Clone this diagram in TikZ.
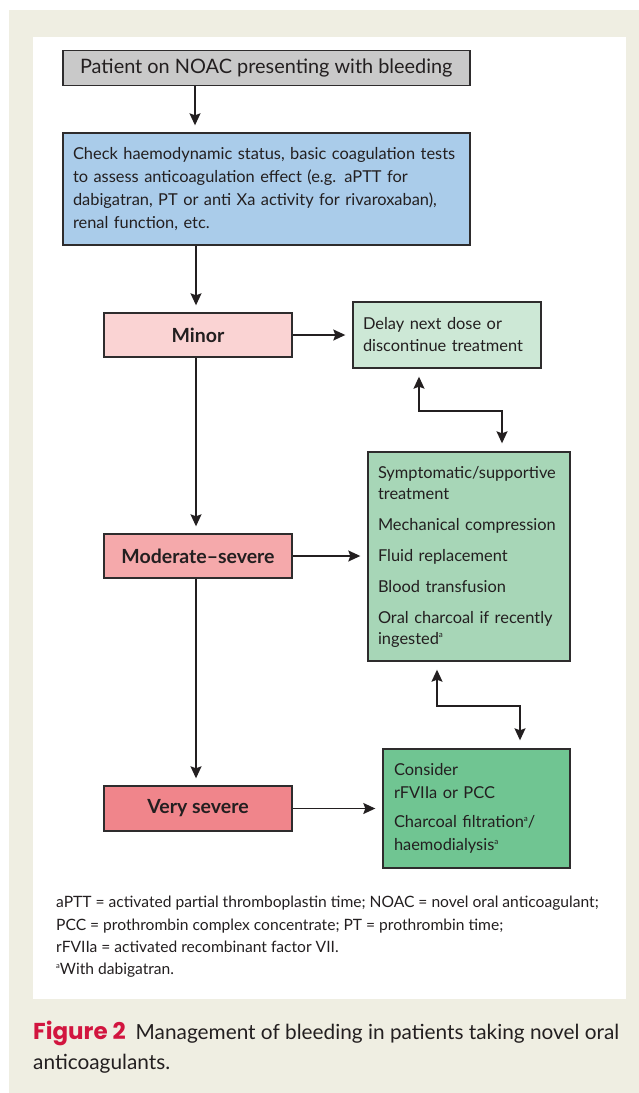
\documentclass[tikz,border=0pt]{standalone}
\usepackage{fontspec}
\setmainfont{Lato}
\newfontfamily\figfont{Poppins}
\usetikzlibrary{arrows.meta}
\definecolor{beige}{HTML}{EFEEE2}
\definecolor{boxline}{HTML}{2E2C2D}
\definecolor{txt}{HTML}{231F20}
\definecolor{grayfill}{HTML}{C9C9C9}
\definecolor{bluefill}{HTML}{AACCEA}
\definecolor{pinkA}{HTML}{FAD3D3}
\definecolor{pinkB}{HTML}{F5A9AB}
\definecolor{pinkC}{HTML}{F0858B}
\definecolor{greenA}{HTML}{CDE8D6}
\definecolor{greenB}{HTML}{A7D6B7}
\definecolor{greenC}{HTML}{70C592}
\definecolor{capred}{HTML}{D2153F}
\newcommand{\supa}{\raisebox{0.75ex}{\fontsize{8}{8}\selectfont a}}
\tikzset{
  box/.style={draw=boxline, line width=1.4pt, rectangle, inner ysep=0pt, text=txt},
  txtbox/.style={box, align=left, inner xsep=10pt, font=\fontsize{16.4}{22}\selectfont},
  sev/.style={box, font=\bfseries\fontsize{19.5}{22}\selectfont, minimum width=188pt},
  conn/.style={draw=txt, line width=1.4pt, -{Stealth[length=12pt,width=11pt,inset=2pt]}, shorten >=7pt},
  dconn/.style={draw=txt, line width=1.4pt, {Stealth[length=12pt,width=11pt,inset=2pt]}-{Stealth[length=12pt,width=11pt,inset=2pt]}, shorten >=8pt, shorten <=8pt}
}
\begin{document}
\begin{tikzpicture}[x=1pt,y=-1pt]
\useasboundingbox (0,0) rectangle (639,1093);
\fill[beige] (9,10) rectangle (639,1093);
\fill[white] (33,37) rectangle (626,999);

\node[box, fill=grayfill, minimum width=407pt, minimum height=35pt, font=\fontsize{19.9}{22}\selectfont] (start) at (266.3,68.2) {Patient on NOAC presenting with bleeding};

\node[txtbox, fill=bluefill, text width=387pt, minimum height=112pt, font=\fontsize{16.4}{23}\selectfont] (check) at (266.5,189)
 {Check haemodynamic status, basic coagulation tests\\to assess anticoagulation effect (e.g. aPTT for\\dabigatran, PT or anti Xa activity for rivaroxaban),\\renal function, etc.};

\node[sev, fill=pinkA, minimum height=44pt] (minor) at (198,335) {Minor};
\node[sev, fill=pinkB, minimum height=44pt] (mod) at (198,556) {Moderate--severe};
\node[sev, fill=pinkC, minimum height=45pt] (vs) at (198,808.5) {Very severe};

\node[txtbox, fill=greenA, text width=168pt, minimum height=66pt] (delay) at (447,335)
 {Delay next dose or\\discontinue treatment};

\node[txtbox, fill=greenB, text width=182pt, minimum height=209pt, font=\fontsize{16.4}{21}\selectfont] (symp) at (469,556.5)
 {Symptomatic/supportive\\treatment\\[10pt]Mechanical compression\\[10pt]Fluid replacement\\[10pt]Blood transfusion\\[10pt]Oral charcoal if recently\\ingested\supa};

\node[txtbox, fill=greenC, text width=165pt, inner xsep=11pt, minimum height=119pt, font=\fontsize{16.4}{23.5}\selectfont] (cons) at (476.5,808.5)
 {Consider\\rFVIIa or PCC\\[5pt]Charcoal filtration\supa/\\haemodialysis\supa};

\draw[conn] (start.south -| 195,0) -- (check.north -| 195,0);
\draw[conn] (check.south -| 196,0) -- (minor.north -| 196,0);
\draw[conn] (minor.east) -- (delay.west);
\draw[conn] (minor.south -| 196,0) -- (mod.north -| 196,0);
\draw[conn] (mod.east) -- (mod.east -| symp.west);
\draw[conn] (mod.south -| 196,0) -- (vs.north -| 196,0);
\draw[conn] (vs.east) -- (vs.east -| cons.west);
\draw[dconn] (delay.south -| 419,0) -- (419,411) -- (502,411) -- (symp.north -| 502,0);
\draw[dconn] (symp.south -| 437,0) -- (437,706) -- (520,706) -- (cons.north -| 520,0);

\node[anchor=north west, align=left, inner sep=0pt, text=txt, font=\fontsize{15.6}{22.4}\selectfont] (notes) at (56,896)
 {aPTT = activated partial thromboplastin time; NOAC = novel oral anticoagulant;\\PCC = prothrombin complex concentrate; PT = prothrombin time;\\rFVIIa = activated recombinant factor VII.\\{\raisebox{0.75ex}{\fontsize{7.5}{8}\selectfont a}}With dabigatran.};

\node[anchor=north west, align=left, inner sep=0pt, text=txt, font=\fontsize{20.8}{30}\selectfont] (caption) at (33,1021)
 {{\color{capred}\figfont\bfseries\fontsize{23}{30}\selectfont Figure 2}\hspace{10pt}Management of bleeding in patients taking novel oral\\anticoagulants.};
\end{tikzpicture}
\end{document}
